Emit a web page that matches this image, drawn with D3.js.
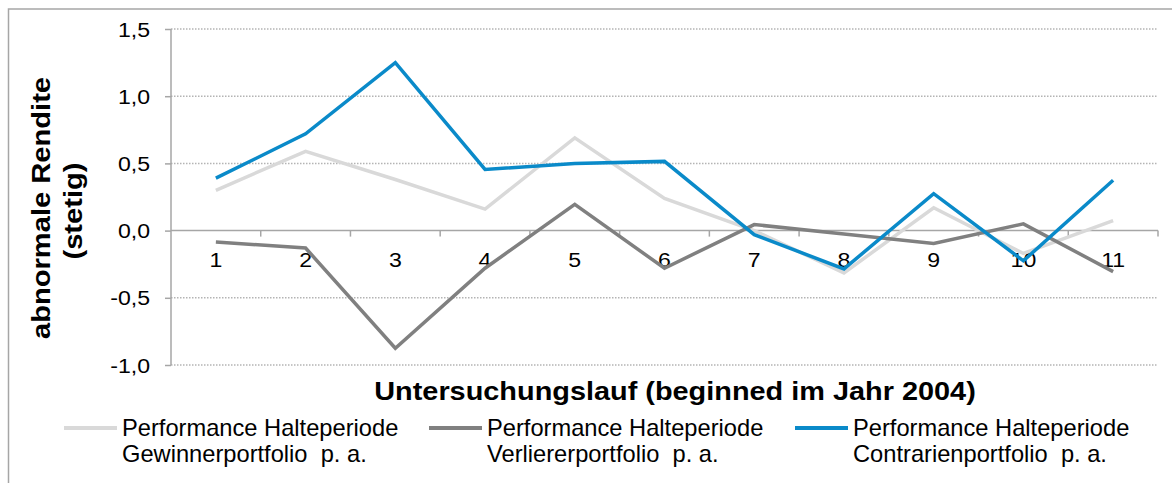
<!DOCTYPE html>
<html>
<head>
<meta charset="utf-8">
<script src="https://cdn.jsdelivr.net/npm/d3@7"></script>
<style>
  body { margin: 0; background: #fff; }
  svg { display: block; font-family: "Liberation Sans", Arial, sans-serif; }
  text { white-space: pre; }
</style>
</head>
<body>
<div id="chart"></div>
<script>
// values
const categories = ["1", "2", "3", "4", "5", "6", "7", "8", "9", "10", "11"];
const gewinner   = [0.30, 0.59, 0.38, 0.16, 0.69, 0.24, 0.00, -0.315, 0.17, -0.17, 0.075];
const verlierer  = [-0.085, -0.13, -0.875, -0.28, 0.195, -0.28, 0.045, -0.025, -0.095, 0.05, -0.305];
const contrarian = [0.39, 0.72, 1.25, 0.455, 0.50, 0.515, -0.03, -0.285, 0.275, -0.225, 0.375];
const yTicks = [-1.0, -0.5, 0.0, 0.5, 1.0, 1.5];

const seriesNames = [
  ["Performance Halteperiode", "Gewinnerportfolio  p. a."],
  ["Performance Halteperiode", "Verliererportfolio  p. a."],
  ["Performance Halteperiode", "Contrarienportfolio  p. a."]
];
const colors = ["#d9d9d9", "#808080", "#0a8ac9"];
const series = [gewinner, verlierer, contrarian];

const W = 1172, H = 483;
const svg = d3.select("#chart").append("svg")
  .attr("width", W)
  .attr("height", H);

// outer chart border (runs off the right and bottom edge)
svg.append("rect")
  .attr("x", 8.5).attr("y", 9)
  .attr("width", W + 10).attr("height", H + 10)
  .attr("fill", "none")
  .attr("stroke", "#a6a6a6")
  .attr("stroke-width", 1.5);

// scales
const x = d3.scaleBand().domain(categories).range([171, 1158]).padding(0);
const y = d3.scaleLinear().domain([-1, 1.5]).range([365, 29]);

// text helper: the source fonts run a bit wider than Liberation Sans
function label(parent, px, py, str, o) {
  const g = parent.append("g")
    .attr("transform", `translate(${px},${py}) rotate(${o.rot || 0}) scale(${o.sx || 1},1)`);
  return g.append("text")
    .attr("text-anchor", o.anchor || "start")
    .attr("dy", o.dy || 0)
    .attr("font-size", o.size)
    .attr("font-weight", o.bold ? "bold" : "normal")
    .attr("fill", "#000")
    .text(str);
}

// gridlines (dotted)
svg.append("g")
  .selectAll("line")
  .data(yTicks.filter(d => d !== 0))
  .join("line")
  .attr("x1", 171).attr("x2", 1158)
  .attr("y1", d => y(d)).attr("y2", d => y(d))
  .attr("stroke", "#b4b4b4")
  .attr("stroke-width", 1.5)
  .attr("stroke-dasharray", "1.5,1.5");

// y axis
const yAxis = svg.append("g")
  .attr("transform", "translate(171,0)")
  .call(d3.axisLeft(y).tickValues(yTicks).tickSize(6).tickFormat(() => ""));
yAxis.select(".domain").attr("stroke", "#a6a6a6").attr("stroke-width", 1.5)
  .attr("d", `M0,${y(1.5)}V${y(-1)}`);
yAxis.selectAll(".tick line").attr("stroke", "#a6a6a6").attr("stroke-width", 1.5);

const fmt = v => d3.format(".1f")(v).replace("\u2212", "-").replace(".", ",");
yTicks.forEach(v => {
  label(svg, 150, y(v), fmt(v), { anchor: "end", dy: "0.36em", size: 21, sx: 1.1 });
});

// x axis on the zero line, ticks at the band edges
const edges = categories.map(c => x(c)).concat([x.range()[1]]);
svg.append("line")
  .attr("x1", 171).attr("x2", 1158)
  .attr("y1", y(0)).attr("y2", y(0))
  .attr("stroke", "#a6a6a6").attr("stroke-width", 1.5);
svg.append("g")
  .selectAll("line")
  .data(edges.slice(1))
  .join("line")
  .attr("x1", d => d).attr("x2", d => d)
  .attr("y1", y(0)).attr("y2", y(0) + 6)
  .attr("stroke", "#a6a6a6").attr("stroke-width", 1.5);

categories.forEach(c => {
  label(svg, x(c) + x.bandwidth() / 2, 267, c, { anchor: "middle", size: 21, sx: 1.1 });
});

// lines
const line = d3.line()
  .x((d, i) => x(categories[i]) + x.bandwidth() / 2)
  .y(d => y(d));

series.forEach((s, k) => {
  svg.append("path")
    .datum(s)
    .attr("fill", "none")
    .attr("stroke", colors[k])
    .attr("stroke-width", 3.5)
    .attr("stroke-linejoin", "miter")
    .attr("d", line);
});

// axis titles
label(svg, 675, 400, "Untersuchungslauf (beginned im Jahr 2004)",
  { anchor: "middle", size: 26.5, bold: true, sx: 1.09 });
label(svg, 50, 208, "abnormale Rendite", { anchor: "middle", size: 26, bold: true, sx: 1.12, rot: -90 });
label(svg, 82, 211, "(stetig)", { anchor: "middle", size: 26, bold: true, sx: 1.12, rot: -90 });

// legend
const legendX = [64, 429, 795];
seriesNames.forEach((names, k) => {
  const lx = legendX[k];
  svg.append("line")
    .attr("x1", lx).attr("x2", lx + 53)
    .attr("y1", 428).attr("y2", 428)
    .attr("stroke", colors[k])
    .attr("stroke-width", 4);
  label(svg, lx + 58, 435.5, names[0], { size: 23, sx: 1.03 });
  label(svg, lx + 58, 461.5, names[1], { size: 23, sx: 1.03 });
});
</script>
</body>
</html>
